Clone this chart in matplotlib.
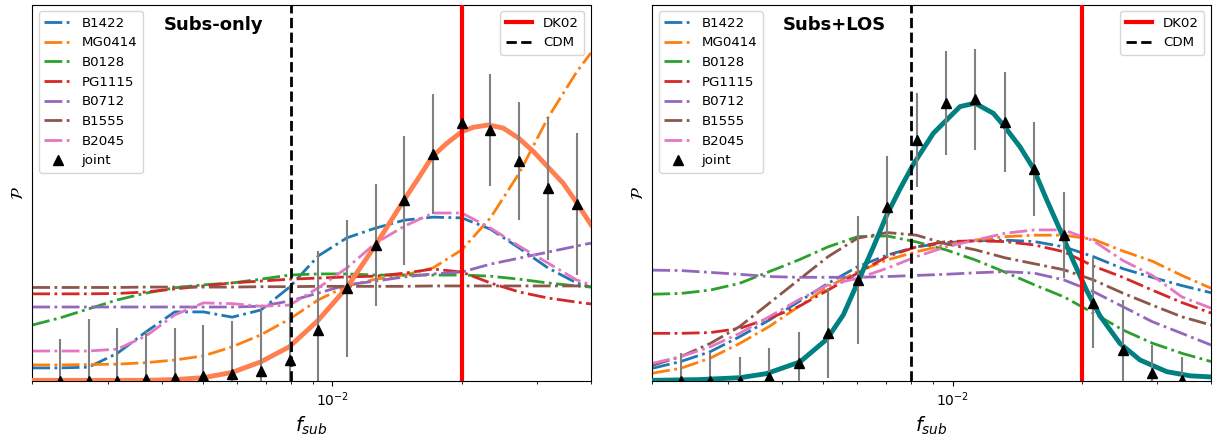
"""Posterior of f_sub per lens: subhalos only vs. subhalos + line of sight."""

import matplotlib
import matplotlib.pyplot as plt

matplotlib.use("Agg")

LENSES = ["B1422", "MG0414", "B0128", "PG1115", "B0712", "B1555", "B2045"]
F_DK02 = 0.02
F_CDM = 0.008

# ---- Subs-only panel -------------------------------------------------------
subs_fsub = [0.002, 0.00232, 0.002705, 0.003157, 0.003681, 0.004294, 0.005008,
             0.00584, 0.006812, 0.007948, 0.00927, 0.01081, 0.01261, 0.01471,
             0.01715, 0.02001, 0.02333, 0.02722, 0.03175, 0.03703, 0.04]
subs_b1422 = [0.034, 0.034, 0.036, 0.073, 0.130, 0.183, 0.183, 0.169, 0.188, 0.249, 0.332,
              0.380, 0.406, 0.427, 0.435, 0.433, 0.403, 0.353, 0.300, 0.260, 0.249]
subs_mg0414 = [0.042, 0.042, 0.043, 0.044, 0.048, 0.055, 0.066, 0.090, 0.122, 0.164, 0.215,
               0.252, 0.270, 0.281, 0.300, 0.348, 0.433, 0.552, 0.699, 0.821, 0.872]
subs_b0128 = [0.148, 0.167, 0.191, 0.215, 0.233, 0.247, 0.255, 0.260, 0.270, 0.281, 0.284,
              0.284, 0.281, 0.281, 0.281, 0.281, 0.278, 0.270, 0.260, 0.252, 0.249]
subs_pg1115 = [0.231, 0.231, 0.231, 0.232, 0.236, 0.244, 0.252, 0.260, 0.265, 0.270, 0.273,
               0.276, 0.278, 0.286, 0.297, 0.289, 0.260, 0.236, 0.220, 0.209, 0.204]
subs_b0712 = [0.196, 0.196, 0.196, 0.196, 0.196, 0.196, 0.196, 0.196, 0.198, 0.212, 0.233,
              0.255, 0.265, 0.276, 0.284, 0.289, 0.310, 0.326, 0.342, 0.358, 0.366]
subs_b1555 = [0.248, 0.248, 0.248, 0.248, 0.249, 0.249, 0.249, 0.249, 0.250, 0.250, 0.251,
              0.251, 0.251, 0.251, 0.252, 0.252, 0.252, 0.252, 0.252, 0.252, 0.252]
subs_b2045 = [0.079, 0.079, 0.079, 0.084, 0.119, 0.175, 0.207, 0.205, 0.198, 0.201, 0.247,
              0.300, 0.366, 0.411, 0.446, 0.446, 0.406, 0.358, 0.313, 0.268, 0.255]

# joint fit, read on its own finer grid
subs_fit_f = [0.002, 0.003679, 0.004291, 0.005002, 0.005834, 0.006806, 0.007932,
              0.009252, 0.01079, 0.01261, 0.01469, 0.01599, 0.01708, 0.01845, 0.01999,
              0.02128, 0.02306, 0.02498, 0.02714, 0.02935, 0.03171, 0.03447, 0.03697, 0.04]
subs_fit_p = [0.001, 0.001, 0.003, 0.008, 0.022, 0.050, 0.090, 0.160, 0.247, 0.361,
              0.481, 0.545, 0.596, 0.631, 0.662, 0.674, 0.680, 0.672, 0.645, 0.610,
              0.569, 0.525, 0.475, 0.415]

subs_joint_f = [0.00232, 0.002705, 0.003157, 0.003681, 0.004294, 0.005008, 0.00584,
                0.006812, 0.007948, 0.00927, 0.01081, 0.01261, 0.01471, 0.01715,
                0.02001, 0.02333, 0.02722, 0.03175, 0.03703]
subs_joint_p = [0.0, 0.0, 0.0, 0.005, 0.008, 0.013, 0.018, 0.027, 0.055, 0.135, 0.246,
                0.361, 0.480, 0.603, 0.686, 0.667, 0.585, 0.512, 0.470]
subs_joint_err = [0.110, 0.163, 0.141, 0.127, 0.133, 0.135, 0.141, 0.163, 0.200, 0.210,
                  0.182, 0.162, 0.172, 0.160, 0.160, 0.148, 0.157, 0.190, 0.190]

# ---- Subs+LOS panel --------------------------------------------------------
los_fsub = [0.002, 0.002328, 0.002727, 0.003194, 0.003741, 0.004381, 0.005132,
            0.00601, 0.007039, 0.008245, 0.009654, 0.01131, 0.01324, 0.01551,
            0.01817, 0.02128, 0.02492, 0.02918, 0.03419, 0.04]
los_b1422 = [0.033, 0.051, 0.077, 0.117, 0.161, 0.210, 0.259, 0.303, 0.334, 0.356,
             0.367, 0.372, 0.374, 0.370, 0.356, 0.330, 0.298, 0.275, 0.253, 0.234]
los_mg0414 = [0.020, 0.033, 0.060, 0.099, 0.144, 0.197, 0.250, 0.290, 0.321, 0.343,
              0.361, 0.374, 0.383, 0.387, 0.387, 0.376, 0.345, 0.318, 0.280, 0.246]
los_b0128 = [0.230, 0.232, 0.241, 0.259, 0.290, 0.321, 0.356, 0.383, 0.385, 0.369,
             0.348, 0.321, 0.289, 0.255, 0.223, 0.180, 0.135, 0.100, 0.073, 0.051]
los_pg1115 = [0.126, 0.126, 0.128, 0.139, 0.166, 0.197, 0.241, 0.286, 0.330, 0.356,
              0.370, 0.372, 0.370, 0.361, 0.343, 0.305, 0.275, 0.241, 0.208, 0.180]
los_b0712 = [0.294, 0.293, 0.288, 0.283, 0.277, 0.275, 0.275, 0.275, 0.277, 0.280,
             0.283, 0.287, 0.290, 0.286, 0.268, 0.237, 0.197, 0.157, 0.126, 0.095]
los_b1555 = [0.041, 0.064, 0.099, 0.144, 0.206, 0.268, 0.330, 0.379, 0.394, 0.387,
             0.364, 0.348, 0.327, 0.311, 0.295, 0.268, 0.233, 0.201, 0.170, 0.148]
los_b2045 = [0.046, 0.064, 0.090, 0.126, 0.170, 0.215, 0.255, 0.272, 0.299, 0.330,
             0.356, 0.374, 0.392, 0.401, 0.401, 0.372, 0.320, 0.280, 0.223, 0.193]

los_fit_f = [0.002, 0.002582, 0.0032, 0.003692, 0.004414, 0.005093, 0.005568, 0.006034,
             0.006539, 0.007025, 0.007545, 0.008103, 0.009022, 0.01041, 0.01128,
             0.01245, 0.01313, 0.01436, 0.01542, 0.01657, 0.0178, 0.01911, 0.02053,
             0.02206, 0.02455, 0.02734, 0.03155, 0.03574, 0.04]
los_fit_p = [0.001, 0.003, 0.008, 0.019, 0.050, 0.110, 0.175, 0.265, 0.355, 0.440,
             0.510, 0.575, 0.658, 0.729, 0.738, 0.711, 0.680, 0.622, 0.565, 0.481,
             0.401, 0.318, 0.240, 0.172, 0.099, 0.055, 0.024, 0.013, 0.010]

los_joint_f = [0.002328, 0.002727, 0.003194, 0.003741, 0.004381, 0.005132, 0.00601,
               0.007039, 0.008245, 0.009654, 0.01131, 0.01324, 0.01551, 0.01817,
               0.02128, 0.02492, 0.02918, 0.03419]
los_joint_p = [0.0, 0.0, 0.0, 0.011, 0.046, 0.126, 0.268, 0.463, 0.640, 0.739, 0.748,
               0.689, 0.562, 0.387, 0.206, 0.082, 0.021, 0.003]
los_joint_err = [0.073, 0.077, 0.064, 0.075, 0.084, 0.120, 0.170, 0.135, 0.124, 0.139,
                 0.134, 0.133, 0.125, 0.115, 0.120, 0.133, 0.074, 0.061]


def draw_panel(ax, fsub, curves, fit_f, fit_p, fit_color, joint_f, joint_p, joint_err, title):
    """Draw one panel: per-lens posteriors, joint estimate and reference lines."""
    handles = []
    for i, (name, vals) in enumerate(zip(LENSES, curves)):
        (ln,) = ax.plot(fsub, vals, ls="-.", lw=2, color=f"C{i}", label=name, zorder=2)
        handles.append(ln)
    ax.plot(fit_f, fit_p, color=fit_color, lw=3.5, zorder=3)
    ax.errorbar(joint_f, joint_p, yerr=joint_err, fmt="none", ecolor="grey",
                elinewidth=1.5, zorder=4)
    (jt,) = ax.plot(joint_f, joint_p, "^", color="k", ms=7, ls="none",
                    label="joint", zorder=5)
    handles.append(jt)
    dk = ax.axvline(F_DK02, color="red", lw=3, label="DK02", zorder=4)
    cdm = ax.axvline(F_CDM, color="k", ls="--", lw=2, label="CDM", zorder=4)

    leg = ax.legend(handles=handles, loc="upper left", fontsize=9.6)
    ax.add_artist(leg)
    ax.legend(handles=[dk, cdm], loc="upper right", fontsize=9.6)

    ax.text(0.325, 0.946, title, transform=ax.transAxes, fontsize=13,
            fontweight="bold", ha="center", va="center")
    ax.set_xscale("log")
    ax.set_xlim(0.002, 0.04)
    ax.set_ylim(0, 1)
    ax.set_yticks([])
    ax.set_xlabel(r"$f_{sub}$", fontsize=14)
    ax.set_ylabel(r"$\mathcal{P}$", fontsize=12)


fig = plt.figure(figsize=(12.13, 4.38), dpi=100)
ax1 = fig.add_axes([0.0266, 0.1308, 0.4606, 0.8585])
ax2 = fig.add_axes([0.5378, 0.1308, 0.4606, 0.8585])

draw_panel(ax1, subs_fsub,
           [subs_b1422, subs_mg0414, subs_b0128, subs_pg1115, subs_b0712, subs_b1555, subs_b2045],
           subs_fit_f, subs_fit_p, "coral",
           subs_joint_f, subs_joint_p, subs_joint_err, "Subs-only")
draw_panel(ax2, los_fsub,
           [los_b1422, los_mg0414, los_b0128, los_pg1115, los_b0712, los_b1555, los_b2045],
           los_fit_f, los_fit_p, "teal",
           los_joint_f, los_joint_p, los_joint_err, "Subs+LOS")

fig.savefig("out.png", dpi=100)
